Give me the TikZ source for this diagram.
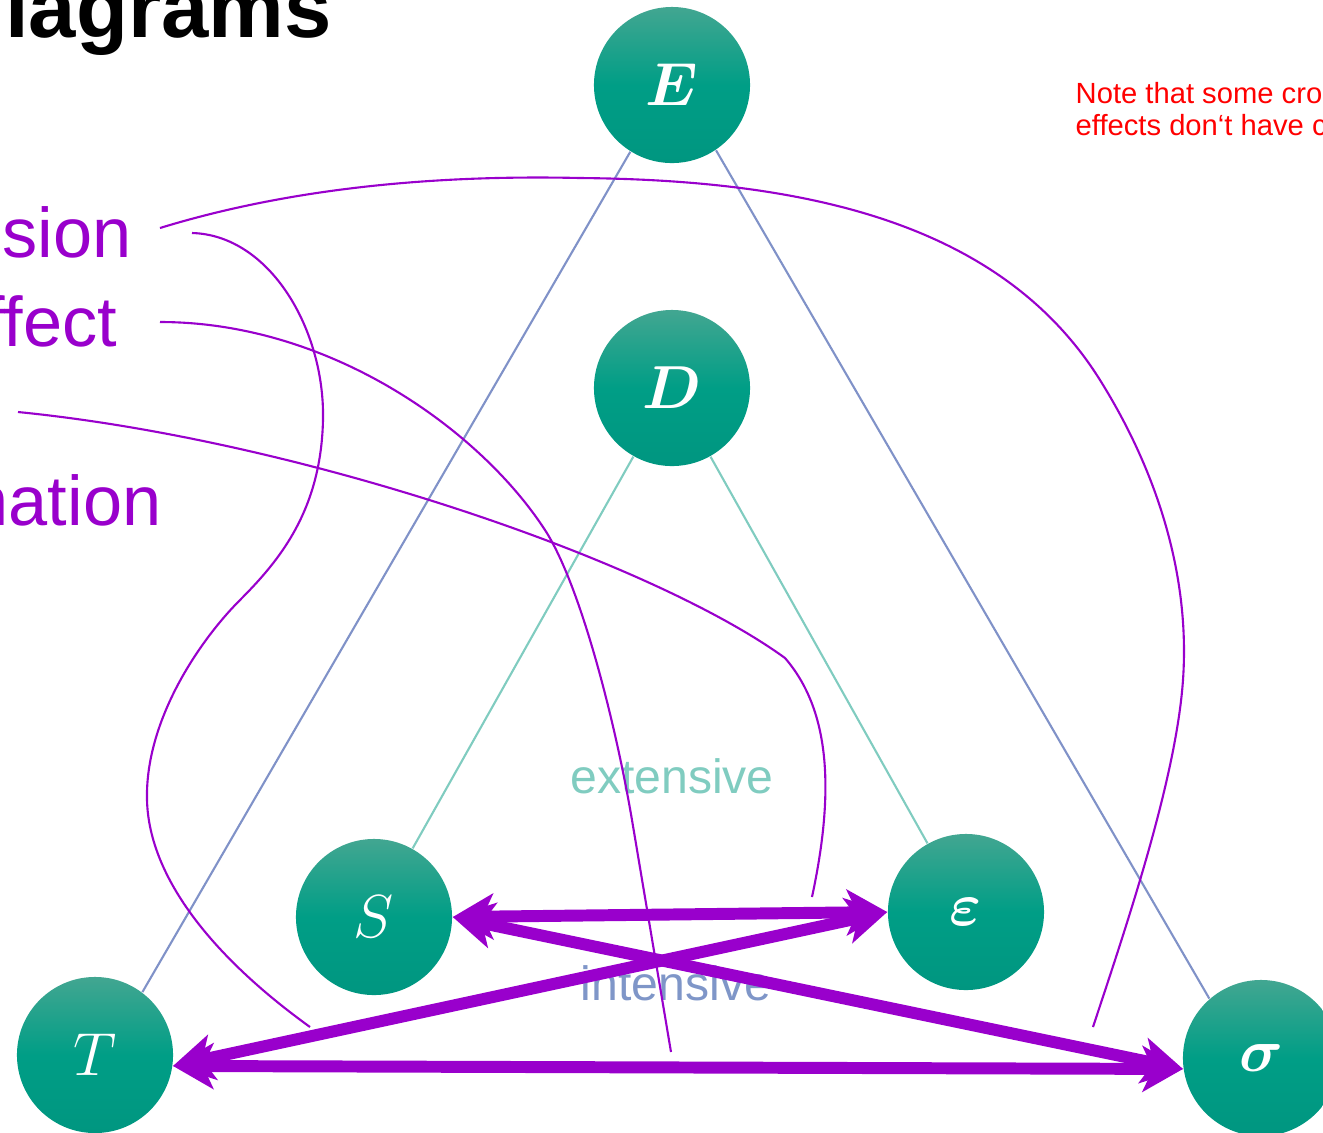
\documentclass[tikz,border=0pt]{standalone}
\usepackage{fontspec}
\usepackage{amsmath}
\usetikzlibrary{arrows.meta}
\newfontfamily\arialfont{Liberation Sans}
\definecolor{pur}{RGB}{153,0,204}
\definecolor{tealtop}{RGB}{66,166,145}
\definecolor{tealmid}{RGB}{0,158,134}
\definecolor{tealbot}{RGB}{0,150,128}
\definecolor{blueline}{RGB}{128,146,200}
\definecolor{tealline}{RGB}{128,204,192}
\definecolor{inttext}{RGB}{127,150,200}
\definecolor{exttext}{RGB}{128,204,192}
\begin{document}
\begin{tikzpicture}[x=0.01cm,y=-0.01cm,
  state/.style={circle,minimum size=1.56cm,inner sep=0pt,top color=tealtop,bottom color=tealbot,middle color=tealmid,text=white,font=\fontsize{18}{20}\selectfont},
  bline/.style={draw=blueline,line width=0.6pt},
  tline/.style={draw=tealline,line width=0.6pt},
  thinp/.style={draw=pur,line width=0.6pt},
  thickp/.style={draw=pur,line width=3.4pt,{Stealth[length=11.5pt,width=13pt,inset=3pt]}-{Stealth[length=11.5pt,width=13pt,inset=3pt]}},
  lab/.style={text=pur,font=\arialfont\fontsize{20}{24}\selectfont,inner sep=0pt}]
\useasboundingbox (0,0) rectangle (1323,1132);
% title and labels
\node[anchor=base west,inner sep=0pt,font=\arialfont\bfseries\fontsize{24.2}{28}\selectfont] (title) at (4.6,37) {iagrams};
\node[lab,anchor=base east] (l1) at (132,257) {sion};
\node[lab,anchor=base east] (l2) at (118,346) {ffect};
\node[lab,anchor=base east] (l3) at (162,525) {nation};
\node[anchor=base west,inner sep=0pt,text=red,font=\arialfont\fontsize{8.3}{10}\selectfont] (n1) at (1075,103) {Note that some cro};
\node[anchor=base west,inner sep=0pt,text=red,font=\arialfont\fontsize{8.3}{10}\selectfont] (n2) at (1075,135) {effects don‘t have c};
% nodes
\node[state] (E) at (672,85) {$\boldsymbol{E}$};
\node[state] (D) at (672,388) {$\boldsymbol{D}$};
\node[state] (S) at (374,917) {$S$};
\node[state] (eps) at (966,912) {$\boldsymbol{\varepsilon}$};
\node[state] (T) at (95,1055) {$T$};
\node[state] (sig) at (1261,1058) {$\boldsymbol{\sigma}$};
% structure lines
\draw[bline] (E.-122) -- (T.53);
\draw[bline] (E.-56) -- (sig.131);
\draw[tline] (D) -- (S);
\draw[tline] (D) -- (eps);
% texts
\node[text=exttext,font=\arialfont\fontsize{13.7}{16}\selectfont,anchor=base,inner sep=0pt] (ext) at (672,793) {extensive};
\node[text=inttext,font=\arialfont\fontsize{13.7}{16}\selectfont,anchor=base,inner sep=0pt] (int) at (676,1000) {intensive};
% thin curves
\coordinate (a1) at (160,228); \coordinate (a2) at (1093,1027);
\coordinate (b1) at (192,233); \coordinate (b2) at (310,1027);
\coordinate (c1) at (160,322); \coordinate (c2) at (671,1052);
\coordinate (d1) at (18,412);  \coordinate (d2) at (812,897);
\draw[thinp] (a1) .. controls (300,185) and (450,175) .. (580,178)
  .. controls (800,180) and (1000,220) .. (1100,380)
  .. controls (1160,476) and (1190,580) .. (1183,680)
  .. controls (1176,780) and (1126,927) .. (a2);
\draw[thinp] (b1) .. controls (270,235) and (325,330) .. (323,420)
  .. controls (321,510) and (280,560) .. (240,600)
  .. controls (200,640) and (145,720) .. (147,800)
  .. controls (149,880) and (217,960) .. (b2);
\draw[thinp] (c1) .. controls (330,322) and (480,430) .. (545,530)
  .. controls (580,584) and (615,720) .. (632,820) -- (c2);
\draw[thinp] (d1) .. controls (300,440) and (650,560) .. (785,658)
  .. controls (830,710) and (835,790) .. (d2);
% thick arrows
\coordinate (Sp) at (S.east);
\coordinate (Ep) at (eps.west);
\coordinate (Tp) at (T.-8.5);
\coordinate (Gp) at (sig.188);
\draw[thickp] (Sp) -- (Ep);
\draw[thickp] (Tp) -- (Gp);
\draw[thickp] (Tp) -- (Ep);
\draw[thickp] (Sp) -- (Gp);
\end{tikzpicture}
\end{document}
